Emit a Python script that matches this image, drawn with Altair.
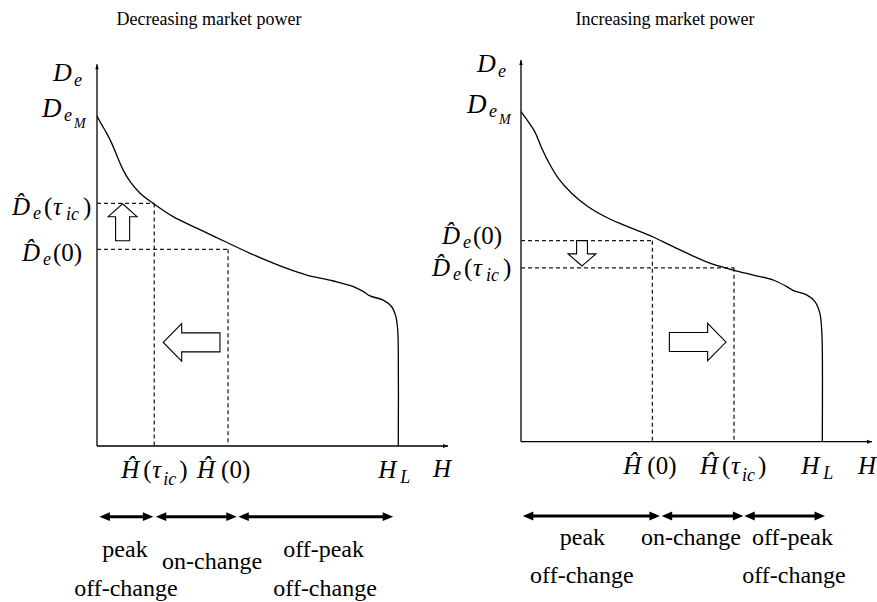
import altair as alt
import pandas as pd

SERIF = "Liberation Serif"
BIG, AXBIG, SUB, SUBSUB, WORD, TITLE = 25, 26, 18, 14, 24, 18

# Load-duration curves D_e(H) (H_L = 1, D_eM = 1)
LEFT_H = [0.000, 0.016, 0.032, 0.049, 0.065, 0.087, 0.110, 0.143, 0.187, 0.253, 0.331,
          0.419, 0.508, 0.630, 0.696, 0.784, 0.851, 0.884, 0.906, 0.950, 0.978, 0.992,
          0.998, 1.000, 1.000]
LEFT_D = [1.000, 0.973, 0.948, 0.917, 0.882, 0.836, 0.801, 0.766, 0.735, 0.695, 0.660,
          0.622, 0.584, 0.538, 0.518, 0.500, 0.483, 0.468, 0.455, 0.442, 0.422, 0.392,
          0.352, 0.291, 0.000]
RIGHT_H = [0.000, 0.024, 0.046, 0.069, 0.091, 0.124, 0.168, 0.223, 0.290, 0.367, 0.437,
           0.505, 0.616, 0.705, 0.771, 0.837, 0.882, 0.904, 0.948, 0.976, 0.992, 0.998,
           1.000, 1.000]
RIGHT_D = [1.000, 0.970, 0.939, 0.889, 0.848, 0.798, 0.753, 0.712, 0.677, 0.647, 0.621,
           0.591, 0.545, 0.520, 0.505, 0.490, 0.470, 0.458, 0.445, 0.424, 0.389, 0.338,
           0.278, 0.000]

# Threshold points (H_hat, D_hat)
LEFT_TAU = (0.190, 0.735)
LEFT_ZERO = (0.435, 0.596)
RIGHT_ZERO = (0.436, 0.609)
RIGHT_TAU = (0.707, 0.527)

H_L = 1.0
D_EM = 1.0
AXIS_TOP = 1.157
AXIS_RIGHT = 1.165

# Interval arrows under the H axis
LEFT_SPAN_FROM = [0.008, 0.195, 0.469]
LEFT_SPAN_TO = [0.187, 0.464, 0.983]
LEFT_SPAN_LEVEL = -0.214
RIGHT_SPAN_FROM = [0.006, 0.467, 0.741]
RIGHT_SPAN_TO = [0.461, 0.738, 1.009]
RIGHT_SPAN_LEVEL = -0.225

# Interval names
WORDS = ["peak", "off-change", "on-change", "off-peak", "off-change"]
LEFT_WORD_H = [0.093, 0.096, 0.382, 0.752, 0.757]
LEFT_WORD_D = [-0.335, -0.454, -0.372, -0.335, -0.454]
RIGHT_WORD_H = [0.204, 0.202, 0.564, 0.901, 0.906]
RIGHT_WORD_D = [-0.312, -0.428, -0.312, -0.312, -0.428]

TITLES = ["Decreasing market power", "Increasing market power"]
TITLE_H = [0.372, 0.478]
TITLE_D = [1.276, 1.263]

# Shift arrows (centre H, centre D)
LEFT_SHIFT_UP = (0.085, 0.678)
LEFT_SHIFT_LEFT = (0.314, 0.314)
RIGHT_SHIFT_DOWN = (0.2025, 0.571)
RIGHT_SHIFT_RIGHT = (0.5865, 0.302)

# symbol paths
UP_BLOCK = "M0,-1L0.78,-0.3L0.38,-0.3L0.38,1L-0.38,1L-0.38,-0.3L-0.78,-0.3Z"
DOWN_BLOCK = "M0,1L1.1,0.05L0.43,0.05L0.43,-1L-0.43,-1L-0.43,0.05L-1.1,0.05Z"
LEFT_BLOCK = "M-1,0L-0.35,-0.66L-0.35,-0.335L1,-0.335L1,0.335L-0.35,0.335L-0.35,0.66Z"
RIGHT_BLOCK = "M1,0L0.35,-0.66L0.35,-0.335L-1,-0.335L-1,0.335L0.35,0.335L0.35,0.66Z"
TIP_UP = "M0,0L0.7,2L-0.7,2Z"
TIP_RIGHT = "M0,0L-2,-0.8L-2,0.8Z"
HEAD_LEFT = "M0,0L2,-0.85L2,0.85Z"
HEAD_RIGHT = "M0,0L-2,-0.85L-2,0.85Z"

IT, RM = "italic", "normal"
DHAT = "D\u0302"
HHAT = "\u0124"
TAU = "\u03c4"


def build_panel(p):
    xs = alt.Scale(domain=p["xdom"], nice=False, zero=False)
    ys = alt.Scale(domain=p["ydom"], nice=False, zero=False)
    X = alt.X("H:Q", scale=xs, axis=None)
    Y = alt.Y("D:Q", scale=ys, axis=None)

    def pt(h, d):
        return pd.DataFrame({"H": [h], "D": [d]})

    def label(h, d, pieces):
        out = []
        for text, dx, dy, size, style in pieces:
            out.append(
                alt.Chart(pt(h, d)).mark_text(
                    text=text, dx=dx, dy=dy, fontSize=size, fontStyle=style,
                    font=SERIF, align="left", baseline="alphabetic", color="black"
                ).encode(x=X, y=Y)
            )
        return out

    def symbol(h, d, shape, size, fill, stroke_w):
        return alt.Chart(pt(h, d)).mark_point(
            shape=shape, size=size, filled=True, fill=fill, stroke="black",
            strokeWidth=stroke_w, opacity=1
        ).encode(x=X, y=Y)

    layers = []

    # axes with arrow tips
    axes = pd.DataFrame({"H": [0.0, 0.0], "D": [0.0, 0.0],
                         "H2": [0.0, AXIS_RIGHT], "D2": [AXIS_TOP, 0.0]})
    layers.append(alt.Chart(axes).mark_rule(color="black", strokeWidth=1.3).encode(
        x=X, y=Y, x2="H2:Q", y2="D2:Q"))
    layers.append(symbol(0.0, AXIS_TOP, TIP_UP, 25, "black", 0))
    layers.append(symbol(AXIS_RIGHT, 0.0, TIP_RIGHT, 25, "black", 0))

    # dashed guides
    rows = []
    for h, d in p["levels"]:
        rows.append({"H": 0.0, "D": d, "H2": h, "D2": d})
        rows.append({"H": h, "D": d, "H2": h, "D2": 0.0})
    layers.append(alt.Chart(pd.DataFrame(rows)).mark_rule(
        color="#1a1a1a", strokeWidth=1.25, strokeDash=[4, 3]).encode(
        x=X, y=Y, x2="H2:Q", y2="D2:Q"))

    # load-duration curve
    curve = pd.DataFrame({"H": p["curve_h"], "D": p["curve_d"],
                          "i": list(range(len(p["curve_h"])))})
    layers.append(alt.Chart(curve).mark_line(
        color="black", strokeWidth=1.3, interpolate="catmull-rom").encode(
        x=X, y=Y, order="i:Q"))

    # hollow shift arrows
    for (h, d), shape, size in p["shifts"]:
        layers.append(symbol(h, d, shape, size, "white", 1.1))

    # interval arrows
    n = len(p["span_from"])
    spans = pd.DataFrame({"H": p["span_from"], "H2": p["span_to"],
                          "D": [p["span_level"]] * n})
    layers.append(alt.Chart(spans).mark_rule(
        color="black", strokeWidth=3, xOffset=7, x2Offset=-7).encode(
        x=X, x2="H2:Q", y=Y))
    heads_l = pd.DataFrame({"H": p["span_from"], "D": [p["span_level"]] * n})
    heads_r = pd.DataFrame({"H": p["span_to"], "D": [p["span_level"]] * n})
    for src, shape in ((heads_l, HEAD_LEFT), (heads_r, HEAD_RIGHT)):
        layers.append(alt.Chart(src).mark_point(
            shape=shape, size=110, filled=True, color="black", opacity=1,
            strokeWidth=0).encode(x=X, y=Y))

    # interval names
    words = pd.DataFrame({"H": p["word_h"], "D": p["word_d"], "w": WORDS})
    layers.append(alt.Chart(words).mark_text(
        font=SERIF, fontSize=WORD, align="center", baseline="alphabetic",
        color="black").encode(x=X, y=Y, text="w:N"))

    # panel title
    layers.append(alt.Chart(pt(p["title_h"], p["title_d"])).mark_text(
        text=p["title"], font=SERIF, fontSize=TITLE, align="center",
        baseline="alphabetic", color="black").encode(x=X, y=Y))

    # math labels
    for (h, d), pieces in p["labels"]:
        layers += label(h, d, pieces)

    return alt.layer(*layers).properties(width=p["width"], height=602)


def d_e(dx, dy):
    return [("D", dx, dy, AXBIG, IT), ("e", dx + 21, dy + 5, SUB, IT)]


def d_em(dx, dy):
    return [("D", dx, dy, AXBIG + 1, IT), ("e", dx + 22, dy + 4, SUB, IT),
            ("M", dx + 32, dy + 11, SUBSUB, IT)]


def dhat_tau(dx, dy):
    return [(DHAT, dx, dy, BIG, IT), ("e", dx + 21, dy + 4, SUB, IT),
            ("(", dx + 32, dy, BIG, RM), (TAU, dx + 41, dy, BIG, IT),
            ("ic", dx + 54, dy + 5, SUB, IT), (")", dx + 71, dy, BIG, RM)]


def dhat_zero(dx, dy):
    return [(DHAT, dx, dy, BIG, IT), ("e", dx + 21, dy + 4, SUB, IT),
            ("(0)", dx + 31, dy, BIG, RM)]


def hhat_tau(dx, dy):
    return [(HHAT, dx, dy, BIG, IT), ("(", dx + 22, dy, BIG, RM),
            (TAU, dx + 31, dy, BIG, IT), ("ic", dx + 42, dy + 7, SUB, IT),
            (")", dx + 58, dy, BIG, RM)]


def hhat_zero(dx, dy):
    return [(HHAT, dx, dy, BIG, IT), ("(0)", dx + 24, dy, BIG, RM)]


def h_l(dx, dy):
    return [("H", dx, dy, BIG, IT), ("L", dx + 22, dy + 5, SUB, IT)]


left = build_panel({
    "width": 424,
    "xdom": [-0.3219, 1.0853],
    "ydom": [-0.4727, 1.3515],
    "curve_h": LEFT_H, "curve_d": LEFT_D,
    "levels": [LEFT_TAU, LEFT_ZERO],
    "shifts": [(LEFT_SHIFT_UP, UP_BLOCK, 1369), (LEFT_SHIFT_LEFT, LEFT_BLOCK, 3215)],
    "span_from": LEFT_SPAN_FROM, "span_to": LEFT_SPAN_TO, "span_level": LEFT_SPAN_LEVEL,
    "word_h": LEFT_WORD_H, "word_d": LEFT_WORD_D,
    "title": TITLES[0], "title_h": TITLE_H[0], "title_d": TITLE_D[0],
    "labels": [
        ((0.0, AXIS_TOP), d_e(-44, 17)),
        ((0.0, D_EM), d_em(-55, 1)),
        ((0.0, LEFT_TAU[1]), dhat_tau(-85, 12)),
        ((0.0, LEFT_ZERO[1]), dhat_zero(-75, 12)),
        ((LEFT_TAU[0], 0.0), hhat_tau(-33, 32)),
        ((LEFT_ZERO[0], 0.0), hhat_zero(-31, 32)),
        ((H_L, 0.0), h_l(-20, 32)),
        ((AXIS_RIGHT, 0.0), [("H", -15, 31, BIG, IT)]),
    ],
})

right = build_panel({
    "width": 453,
    "xdom": [-0.3219, 1.1815],
    "ydom": [-0.4858, 1.3385],
    "curve_h": RIGHT_H, "curve_d": RIGHT_D,
    "levels": [RIGHT_ZERO, RIGHT_TAU],
    "shifts": [(RIGHT_SHIFT_DOWN, DOWN_BLOCK, 640), (RIGHT_SHIFT_RIGHT, RIGHT_BLOCK, 3215)],
    "span_from": RIGHT_SPAN_FROM, "span_to": RIGHT_SPAN_TO, "span_level": RIGHT_SPAN_LEVEL,
    "word_h": RIGHT_WORD_H, "word_d": RIGHT_WORD_D,
    "title": TITLES[1], "title_h": TITLE_H[1], "title_d": TITLE_D[1],
    "labels": [
        ((0.0, AXIS_TOP), d_e(-44, 12)),
        ((0.0, D_EM), d_em(-54, 1)),
        ((0.0, RIGHT_ZERO[1]), dhat_zero(-79, 3)),
        ((0.0, RIGHT_TAU[1]), dhat_tau(-89, 8)),
        ((RIGHT_ZERO[0], 0.0), hhat_zero(-29, 32)),
        ((RIGHT_TAU[0], 0.0), hhat_tau(-34, 32)),
        ((H_L, 0.0), h_l(-21, 32)),
        ((AXIS_RIGHT, 0.0), [("H", -14, 32, BIG, IT)]),
    ],
})

chart = alt.hconcat(
    left, right, spacing=0, bounds="flush", padding=0, background="white"
).configure_view(stroke=None)

chart.save("out.html", embed_options={"renderer": "svg", "actions": False})
